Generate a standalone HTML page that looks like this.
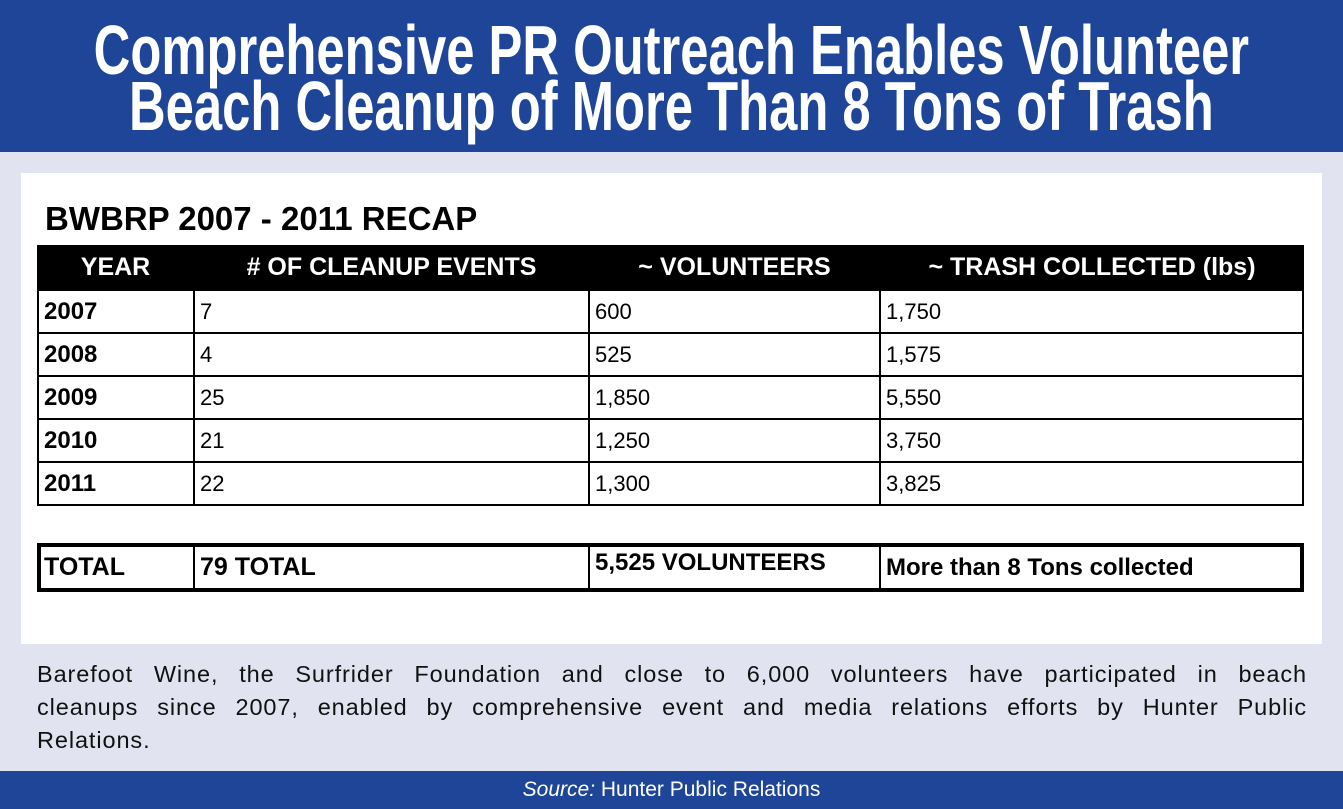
<!DOCTYPE html>
<html><head><style>
body{margin:0;width:1343px;height:809px;background:#e1e3f1;position:relative;overflow:hidden;font-family:"Liberation Sans",sans-serif}
.hdr{position:absolute;left:0;top:0;width:1343px;height:152px;background:#1e4597}
.hl{position:absolute;left:-500px;width:2343px;text-align:center;color:#fff;font-weight:bold;font-size:70px;line-height:70px;transform:scaleX(0.725);transform-origin:1171px 0;white-space:nowrap}
.panel{position:absolute;left:21px;top:173px;width:1301px;height:471px;background:#fff}
.ttl{position:absolute;left:45px;top:200px;font-size:33px;font-weight:bold;color:#000}
.c{position:absolute;box-sizing:border-box;font-size:22px;padding-left:6px;display:flex;align-items:center}
.h{position:absolute;top:245px;height:45px;background:#000;color:#fff;font-weight:bold;font-size:25px;display:flex;align-items:center;justify-content:center}
.foot{position:absolute;left:0;top:771px;width:1343px;height:38px;background:#1e4597;color:#fff;text-align:center;font-size:21px;line-height:38px}
.tl{position:absolute;left:37px;width:1270px;font-size:23.5px;letter-spacing:0.9px;line-height:33px;text-align:justify;text-align-last:justify;color:#111;white-space:nowrap}
</style></head><body>
<div class="hdr"></div>
<div class="hl" style="top:15px">Comprehensive PR Outreach Enables Volunteer</div>
<div class="hl" style="top:71px">Beach Cleanup of More Than 8 Tons of Trash</div>
<div class="panel"></div>
<div class="ttl">BWBRP 2007 - 2011 RECAP</div>
<div class="h" style="left:37px;width:157px">YEAR</div>
<div class="h" style="left:194px;width:395px">#&nbsp;OF CLEANUP EVENTS</div>
<div class="h" style="left:589px;width:291px">~ VOLUNTEERS</div>
<div class="h" style="left:880px;width:424px">~ TRASH COLLECTED (lbs)</div>
<svg style="position:absolute;left:0;top:0" width="1343" height="809">
<g stroke="#000" stroke-width="2" fill="none">
<rect x="38" y="290" width="1265" height="215"/>
<line x1="38" y1="333" x2="1303" y2="333"/><line x1="38" y1="376" x2="1303" y2="376"/><line x1="38" y1="419" x2="1303" y2="419"/><line x1="38" y1="462" x2="1303" y2="462"/>
<line x1="194" y1="290" x2="194" y2="505"/><line x1="589" y1="290" x2="589" y2="505"/><line x1="880" y1="290" x2="880" y2="505"/>
<rect x="39" y="545" width="1263" height="45" stroke-width="4"/>
<line x1="194" y1="545" x2="194" y2="590"/><line x1="589" y1="545" x2="589" y2="590"/><line x1="880" y1="545" x2="880" y2="590"/>
</g></svg>
<div class="c" style="left:38px;top:290px;height:43px;font-weight:bold;font-size:24px">2007</div>
<div class="c" style="left:194px;top:290px;height:43px">7</div>
<div class="c" style="left:589px;top:290px;height:43px">600</div>
<div class="c" style="left:880px;top:290px;height:43px">1,750</div>
<div class="c" style="left:38px;top:333px;height:43px;font-weight:bold;font-size:24px">2008</div>
<div class="c" style="left:194px;top:333px;height:43px">4</div>
<div class="c" style="left:589px;top:333px;height:43px">525</div>
<div class="c" style="left:880px;top:333px;height:43px">1,575</div>
<div class="c" style="left:38px;top:376px;height:43px;font-weight:bold;font-size:24px">2009</div>
<div class="c" style="left:194px;top:376px;height:43px">25</div>
<div class="c" style="left:589px;top:376px;height:43px">1,850</div>
<div class="c" style="left:880px;top:376px;height:43px">5,550</div>
<div class="c" style="left:38px;top:419px;height:43px;font-weight:bold;font-size:24px">2010</div>
<div class="c" style="left:194px;top:419px;height:43px">21</div>
<div class="c" style="left:589px;top:419px;height:43px">1,250</div>
<div class="c" style="left:880px;top:419px;height:43px">3,750</div>
<div class="c" style="left:38px;top:462px;height:43px;font-weight:bold;font-size:24px">2011</div>
<div class="c" style="left:194px;top:462px;height:43px">22</div>
<div class="c" style="left:589px;top:462px;height:43px">1,300</div>
<div class="c" style="left:880px;top:462px;height:43px">3,825</div>
<div class="c" style="left:38px;top:545px;height:45px;font-weight:bold;font-size:25px">TOTAL</div>
<div class="c" style="left:194px;top:545px;height:45px;font-weight:bold;font-size:25px">79 TOTAL</div>
<div class="c" style="left:589px;top:540px;height:45px;font-weight:bold;font-size:24px">5,525 VOLUNTEERS</div>
<div class="c" style="left:880px;top:545px;height:45px;font-weight:bold;font-size:24px">More than 8 Tons collected</div>
<div class="tl" style="top:658px">Barefoot Wine, the Surfrider Foundation and close to 6,000 volunteers have participated in beach</div>
<div class="tl" style="top:691px">cleanups since 2007, enabled by comprehensive event and media relations efforts by Hunter Public</div>
<div class="tl" style="top:724px;text-align-last:left">Relations.</div>
<div class="foot"><i>Source:</i> Hunter Public Relations</div>
</body></html>
